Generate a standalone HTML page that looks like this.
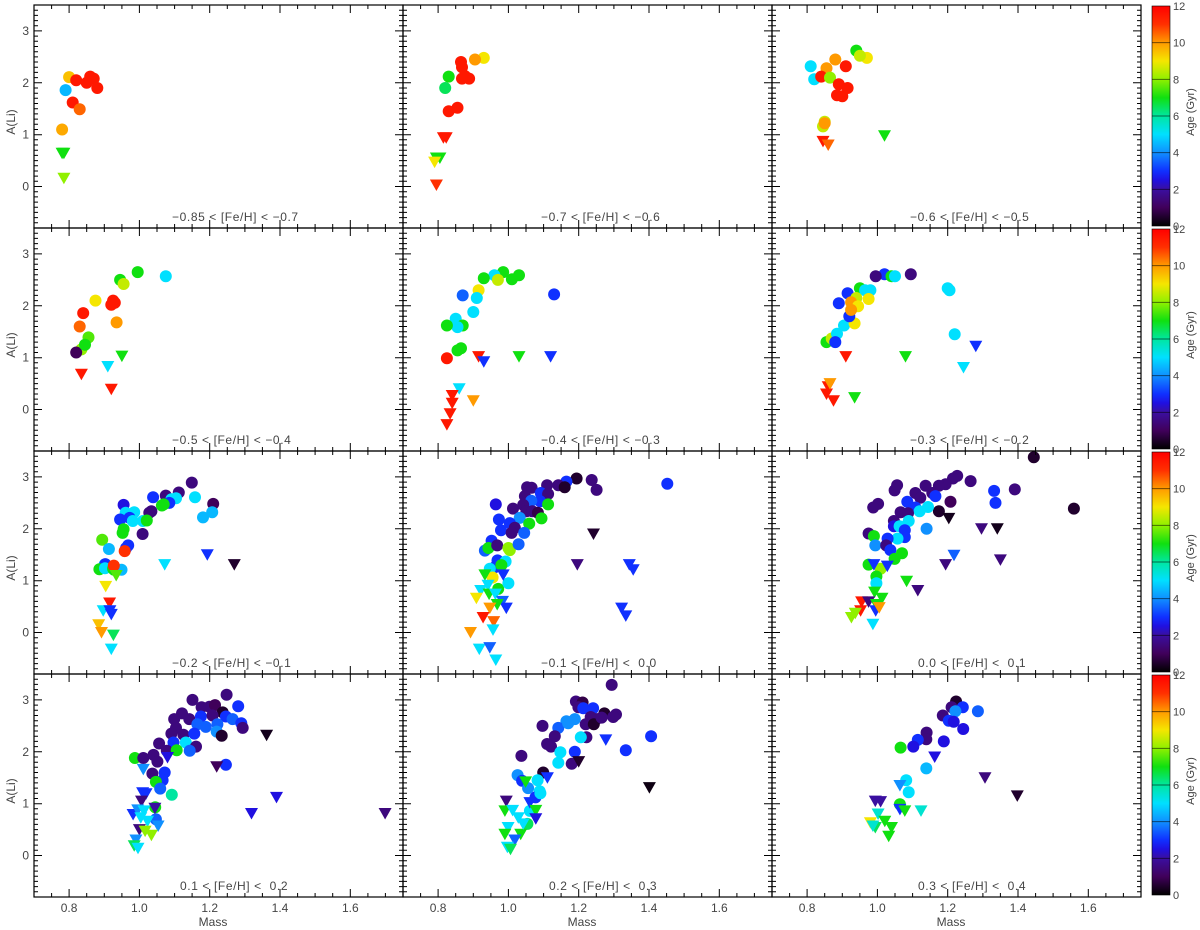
<!DOCTYPE html>
<html><head><meta charset="utf-8"><style>
html,body{margin:0;padding:0;background:#fff;}
svg{display:block;font-family:"Liberation Sans",sans-serif;}
text{white-space:pre;}
</style></head><body>
<svg id="chart" width="1200" height="930" viewBox="0 0 1200 930" xmlns="http://www.w3.org/2000/svg"></svg>
<script>
const panelLabels = ["\u22120.85 < [Fe/H] < \u22120.7","\u22120.7 < [Fe/H] < \u22120.6","\u22120.6 < [Fe/H] < \u22120.5",
"\u22120.5 < [Fe/H] < \u22120.4","\u22120.4 < [Fe/H] < \u22120.3","\u22120.3 < [Fe/H] < \u22120.2",
"\u22120.2 < [Fe/H] < \u22120.1","\u22120.1 < [Fe/H] <  0.0","0.0 < [Fe/H] <  0.1",
"0.1 < [Fe/H] <  0.2","0.2 < [Fe/H] <  0.3","0.3 < [Fe/H] <  0.4"];
const xTicks = [0.8,1.0,1.2,1.4,1.6];
const xTickLabels = ["0.8","1.0","1.2","1.4","1.6"];
const yTicks = [0,1,2,3];
const yTickLabels = ["0","1","2","3"];
const cbTicks = [0,2,4,6,8,10,12];
const cbTickLabels = ["0","2","4","6","8","10","12"];
const circMass = [
[0.80,0.82,0.86,0.87,0.85,0.88,0.79,0.81,0.83,0.78],
[0.93,0.905,0.865,0.868,0.876,0.888,0.868,0.83,0.82,0.855,0.83],
[0.94,0.97,0.95,0.81,0.91,0.88,0.82,0.855,0.84,0.865,0.89,0.885,0.9,0.915,0.845,0.85,0.85],
[0.995,1.075,0.945,0.955,0.875,0.925,0.93,0.92,0.84,0.83,0.855,0.835,0.82,0.845,0.935],
[0.985,1.03,0.96,0.93,0.97,1.01,0.915,0.91,0.87,1.13,0.9,0.85,0.87,0.855,0.825,0.855,0.865,0.825],
[1.02,0.995,1.04,1.095,1.05,0.915,0.95,0.965,0.98,0.94,0.975,1.2,1.205,0.89,0.925,0.945,0.905,0.935,0.92,0.925,1.22,0.855,0.87,0.885,0.88],
[1.149,1.112,1.075,1.158,1.21,1.207,1.181,1.039,1.091,1.104,1.085,1.064,1.069,0.955,1.034,1.028,0.961,0.985,0.972,0.981,0.945,1.01,1.021,0.955,0.952,1.009,0.894,0.913,0.968,0.962,0.958,0.901,0.903,0.886,0.902,0.925,0.928,0.949,0.927],
[1.452,1.194,1.237,1.251,1.165,1.142,1.11,1.16,1.053,1.066,1.047,1.092,1.113,1.09,1.065,1.113,0.964,1.013,1.042,1.051,1.068,1.084,1.032,1.059,1.094,0.973,1.004,0.979,1.018,1.009,1.045,0.952,0.933,0.943,0.968,1.0,1.004,1.029,0.969,0.992,0.961,0.947,0.98,0.955,0.971,1.0],
[1.445,1.559,1.265,1.391,1.332,1.336,1.227,1.215,1.194,1.175,1.137,1.156,1.108,1.122,1.165,1.208,1.175,1.056,1.049,1.002,0.988,1.085,1.108,1.144,1.12,1.066,1.087,1.089,1.047,1.047,1.063,1.078,1.14,1.078,1.057,0.975,0.99,0.994,1.029,1.025,1.037,1.07,1.049,0.975,1.009,0.997,0.997],
[1.248,1.151,1.177,1.199,1.215,1.237,1.281,1.121,1.099,1.142,1.175,1.208,1.246,1.265,1.165,1.189,1.222,1.29,1.294,1.104,1.091,1.125,1.156,1.22,1.234,1.056,1.097,1.132,1.161,1.078,1.106,1.143,0.987,1.011,1.04,1.051,1.037,1.072,1.246,1.066,1.047,1.059,1.092,1.047,1.045],
[1.294,1.192,1.211,1.199,1.213,1.241,1.273,1.306,1.298,1.251,1.234,1.22,1.243,1.265,1.189,1.165,1.142,1.17,1.097,1.132,1.222,1.206,1.11,1.121,1.148,1.189,1.142,1.18,1.334,1.406,1.037,1.099,1.026,1.039,1.056,1.083,1.089,1.077,1.091,1.061,1.054],
[1.224,1.211,1.243,1.286,1.222,1.186,1.203,1.217,1.244,1.14,1.139,1.115,1.189,1.102,1.066,1.139,1.082,1.089,1.064]
];
const circAli = [
[2.11,2.05,2.12,2.08,2.0,1.9,1.86,1.62,1.49,1.1],
[2.48,2.45,2.4,2.3,2.13,2.08,2.08,2.12,1.9,1.52,1.45],
[2.62,2.48,2.52,2.32,2.32,2.45,2.07,2.28,2.12,2.1,1.97,1.76,1.74,1.9,1.16,1.25,1.22],
[2.65,2.57,2.5,2.42,2.1,2.1,2.06,2.02,1.86,1.6,1.39,1.16,1.1,1.25,1.68],
[2.65,2.59,2.59,2.53,2.5,2.51,2.3,2.15,2.2,2.22,1.88,1.75,1.62,1.59,1.62,1.14,1.18,0.99],
[2.61,2.57,2.57,2.61,2.57,2.24,2.34,2.3,2.3,2.15,2.13,2.34,2.3,2.05,2.07,1.99,1.62,1.66,1.8,1.92,1.45,1.3,1.37,1.46,1.3],
[2.89,2.7,2.64,2.61,2.48,2.32,2.22,2.61,2.57,2.59,2.5,2.45,2.47,2.46,2.34,2.31,2.31,2.32,2.21,2.15,2.18,2.15,2.16,1.99,1.92,1.9,1.79,1.61,1.68,1.63,1.57,1.31,1.32,1.22,1.24,1.23,1.21,1.21,1.29],
[2.87,2.97,2.94,2.75,2.91,2.84,2.84,2.8,2.8,2.79,2.63,2.69,2.67,2.53,2.54,2.47,2.47,2.39,2.46,2.34,2.34,2.31,2.21,2.1,2.2,2.18,2.11,1.97,2.02,1.92,1.92,1.77,1.58,1.63,1.68,1.63,1.59,1.7,1.39,1.37,1.26,1.23,1.3,1.06,0.84,0.95],
[3.38,2.39,2.92,2.76,2.73,2.5,3.02,2.97,2.86,2.83,2.83,2.69,2.69,2.6,2.63,2.52,2.34,2.84,2.74,2.48,2.41,2.52,2.41,2.42,2.34,2.32,2.3,2.15,2.15,2.05,2.05,1.97,2.0,1.84,1.81,1.91,1.86,1.68,1.81,1.68,1.59,1.53,1.42,1.31,1.23,1.08,0.95],
[3.1,3.0,2.86,2.87,2.9,2.76,2.88,2.74,2.63,2.63,2.68,2.7,2.68,2.63,2.53,2.48,2.53,2.55,2.46,2.46,2.35,2.33,2.35,2.39,2.31,2.16,2.18,2.18,2.1,2.02,2.03,2.02,1.88,1.88,1.94,1.81,1.58,1.6,1.75,1.45,1.42,1.29,1.17,0.7,0.93],
[3.29,2.97,2.95,2.86,2.84,2.84,2.74,2.72,2.67,2.63,2.67,2.53,2.53,2.66,2.63,2.59,2.46,2.55,2.5,2.3,2.28,2.28,2.15,2.1,1.99,2.0,1.79,1.77,2.03,2.3,1.92,1.6,1.55,1.44,1.3,1.45,1.24,1.12,1.2,0.86,0.61],
[2.97,2.86,2.86,2.78,2.78,2.7,2.6,2.58,2.44,2.37,2.24,2.23,2.2,2.1,2.08,1.68,1.45,1.22,0.99]
];
const circAge = [
[9.5,11.5,11.5,11.5,11.5,11.5,4.5,11.5,10.5,9.8],
[9,10,11.5,11.5,11.5,11.5,11.5,7,6.5,11.5,11.5],
[7,9,8.5,5,11.5,10,5,10,11.5,8,11.5,11.5,11.5,11.5,8.5,8.5,10],
[7,5,7,8.5,9,11.5,11.5,11.5,11.5,10.5,7.5,8,1,7,10],
[7,7,5,7,8.5,7,9,5,3.5,3,5,5,7,5,7,7,7,11.5],
[3,1.5,7,1.5,5,3,7,5,5,8.5,9,5,5,3,10,9,5,9,3,10,5,7,8.5,5,3],
[1.5,1.5,1.5,5,1,4.5,4.5,3,5,5,3,7,7,2.5,1.5,1.5,5,5,3,5,3,5,7,7,7,1.5,7.5,4.5,3,3,11,5,3,7,5,7,7,4.5,11],
[3,0.5,1.5,1.5,3,1.5,1.5,0.5,1.5,1.5,1.5,3,1.5,3,3.5,7,2.5,1.5,1.5,1.5,1.5,0.8,4,7,7,3,3,3,1.5,1.5,3.5,3,3.5,7,1.5,8,8,3.5,3,5,3,5,7,9,7,5],
[0.5,0.5,1.5,1.5,3,3,1.5,1.5,1.5,1.5,1.5,1.5,1.5,1.5,3,1,0.5,1.5,1.5,1.5,1.5,3,3,5,5,1.5,1.5,5,1.5,2.5,5,3,4,3,5,1.5,7,4,3,1.5,3,7,7,7,8,7,5],
[1.5,1.5,1.5,1.5,1,0.5,3,1.5,1.5,1.5,3,1.5,3,3.5,3.5,3.5,3.5,3,1.5,1.5,1.5,1.5,3,4,0.5,1.5,3,5,1.5,1.5,7,3.5,7,1.5,1.5,1.5,1.5,3,3,3,7,3.5,6,3.5,7],
[1.5,1.5,0.8,1.5,3,3,0.5,1.5,1.5,1.5,1.5,1.5,0.5,1.5,4,4,3.5,4,1.5,1.5,1.5,5,1.5,1.5,5,3,5,1.5,3,3,1.5,0.5,4,3,4,5,5,3,5,5,6.5],
[0.5,1.5,3,3.5,4,1.5,3,2.5,2.5,1.5,1.5,3,2.5,2.5,7,4.5,5,5,7]
];
const triMass = [
[0.785,0.78,0.785],
[0.815,0.823,0.805,0.795,0.79,0.795],
[1.02,0.845,0.86],
[0.91,0.95,0.835,0.92],
[0.915,0.93,1.03,1.12,0.86,0.84,0.84,0.834,0.825,0.9],
[1.28,1.245,0.91,1.08,0.86,0.855,0.875,0.865,0.935],
[0.934,1.072,1.193,1.27,0.904,0.915,0.897,0.92,0.916,0.884,0.892,0.926,0.92],
[1.242,1.196,1.344,1.355,1.322,1.334,0.933,0.985,0.942,0.921,0.945,0.963,0.909,0.983,0.994,0.968,0.947,0.928,0.958,0.956,0.892,0.917,0.947,0.964],
[1.203,1.296,1.341,1.218,1.194,1.35,0.99,1.028,1.083,1.115,0.992,1.013,0.955,0.975,0.997,0.952,0.995,1.005,0.937,0.926,0.987],
[1.362,1.22,1.08,1.011,1.009,1.019,1.006,1.39,1.319,1.699,1.044,0.982,0.995,1.013,1.004,1.023,1.053,1.0,1.016,1.034,0.99,0.985,0.996],
[1.277,1.2,1.111,1.401,1.049,0.994,1.061,1.078,1.078,0.99,1.012,1.028,0.999,0.99,1.035,1.018,0.997,1.006,1.042],
[1.163,1.064,1.306,1.398,0.994,1.009,1.064,1.078,1.124,1.002,0.98,0.994,1.021,1.04,1.032,0.987]
];
const triAli = [
[0.64,0.64,0.16],
[0.94,0.94,0.55,0.55,0.47,0.03],
[0.98,0.87,0.8],
[0.83,1.03,0.68,0.39],
[1.02,0.92,1.02,1.02,0.4,0.27,0.12,-0.08,-0.29,0.17],
[1.22,0.81,1.02,1.02,0.44,0.3,0.17,0.5,0.23],
[1.1,1.31,1.5,1.31,0.89,0.57,0.42,0.35,0.42,0.15,0.0,-0.05,-0.32],
[1.9,1.31,1.31,1.21,0.47,0.32,1.11,1.11,0.91,0.81,0.74,0.74,0.66,0.6,0.47,0.54,0.47,0.29,0.21,0.05,0.0,-0.32,-0.29,-0.53],
[2.2,2.0,2.0,1.49,1.31,1.4,1.31,1.28,0.99,0.81,0.78,0.66,0.59,0.59,0.54,0.42,0.42,0.48,0.37,0.29,0.16],
[2.32,1.71,1.89,1.66,1.21,1.19,1.05,1.12,0.81,0.81,0.91,0.79,0.88,0.86,0.73,0.66,0.57,0.5,0.47,0.39,0.3,0.19,0.14],
[2.23,1.81,1.5,1.31,1.42,1.05,1.02,0.87,0.71,0.86,0.87,0.73,0.54,0.41,0.41,0.3,0.16,0.12,0.61],
[1.9,1.35,1.5,1.15,1.05,1.04,0.89,0.86,0.86,0.8,0.63,0.54,0.66,0.54,0.37,0.57]
];
const triAge = [
[7,7,8],
[11.5,11.5,7,7,9,11],
[7,11.5,10.5],
[5,7,11.5,11.5],
[11.5,3,7,3,5,11.5,11.5,11.5,11.5,10],
[3,5,11.5,7,11.5,11.5,11.5,10,7],
[7.5,5,3,0.5,9,11.5,5,3,3,9.5,10,6.5,5],
[0.5,1.5,3,3,3,3,7,3,5,5,7,5,9,3.5,3,7,10,11.5,10.5,5,10,5,3.5,5],
[0.3,1.5,0.3,3.5,1.5,1.5,3,3,7,1.5,7,7,11.5,1.5,7,11.5,3,10,8,8,5],
[0.3,1,2.5,4,3,3,1.5,2.5,2.5,1.5,2,3,4,5,5,5,4,1.5,8,8,4,6.5,5],
[3,0.5,3,0.2,7,1.5,3,7,2.5,7,5,5,5,7,7,3.5,5,6.5,5],
[2.5,4,1.5,0.5,2,2,3,7,5.5,5.5,9,6.5,7,7,7,5.5]
];

const NS="http://www.w3.org/2000/svg";
const svg=document.getElementById('chart');
const X0=34,Y0=5,PW=369,PH=223;
const XMIN=0.7,XMAX=1.75,YMIN=-0.8,YMAX=3.5;
const cmapAge=[0,1,2,2.5,3,4,5,6,7,8,9,10,11,12];
const cmapCol=[[0,0,0],[64,0,90],[58,15,160],[32,16,224],[16,48,255],[16,144,255],[0,224,255],[0,230,160],[16,224,16],[144,240,0],[245,230,0],[255,154,0],[255,48,0],[255,0,0]];
function ageColor(a){
  a=Math.max(0,Math.min(12,a));
  for(let i=0;i<cmapAge.length-1;i++){
    if(a<=cmapAge[i+1]){const t=(a-cmapAge[i])/(cmapAge[i+1]-cmapAge[i]);
      const c=cmapCol[i].map((v,k)=>Math.round(v+(cmapCol[i+1][k]-v)*t));
      return `rgb(${c[0]},${c[1]},${c[2]})`;}
  }
  return 'rgb(255,0,0)';
}
function el(tag,attrs,parent){const e=document.createElementNS(NS,tag);for(const k in attrs)e.setAttribute(k,attrs[k]);(parent||svg).appendChild(e);return e;}
function xs(left,m){return left+(m-XMIN)/(XMAX-XMIN)*PW;}
function ys(top,a){return top+(YMAX-a)/(YMAX-YMIN)*PH;}

const defs=el('defs',{});
const grad=el('linearGradient',{id:'agegrad',x1:0,y1:1,x2:0,y2:0},defs);
for(let i=0;i<=48;i++){const a=i/4;el('stop',{offset:(a/12).toFixed(4),'stop-color':ageColor(a)},grad);}

for(let p=0;p<12;p++){
  const r=Math.floor(p/3),c=p%3;
  const left=X0+c*PW,top=Y0+r*PH;
  const g=el('g',{});
  
  
  const cm=circMass[p],ca=circAli[p],cg=circAge[p];
  for(let i=0;i<cm.length;i++){
    const e=el('circle',{cx:xs(left,cm[i]).toFixed(1),cy:ys(top,ca[i]).toFixed(1),r:6,fill:ageColor(cg[i])},g);
    
    
  }
  const tm=triMass[p],ta=triAli[p],tg=triAge[p];
  for(let i=0;i<tm.length;i++){
    const x=xs(left,tm[i]),y=ys(top,ta[i]);
    const e=el('polygon',{points:`${(x-6.5).toFixed(1)},${(y-5.5).toFixed(1)} ${(x+6.5).toFixed(1)},${(y-5.5).toFixed(1)} ${x.toFixed(1)},${(y+6).toFixed(1)}`,fill:ageColor(tg[i])},g);
    
    
  }
  const fr=el('rect',{x:left,y:top,width:PW,height:PH,fill:'none',stroke:'#000','stroke-width':1.2},g);
  
  
  let d='';
  for(let k=0;k<=21;k++){const v=0.7+k*0.05;const x=xs(left,v);if(x>left+PW+0.5)break;
    const major=xTicks.some(t=>Math.abs(t-v)<1e-6);const L=major?8:4;
    d+=`M${x.toFixed(1)},${top+PH}v${-L}M${x.toFixed(1)},${top}v${L}`;}
  for(let k=0;k<=43;k++){const v=-0.8+k*0.1;const y=ys(top,v);
    const major=yTicks.some(t=>Math.abs(t-v)<1e-6);const L=major?8:4;
    d+=`M${left},${y.toFixed(1)}h${L}M${left+PW},${y.toFixed(1)}h${-L}`;}
  const tk=el('path',{d:d,stroke:'#000','stroke-width':1,fill:'none'},g);
  
  
  if(r===3){
    xTicks.forEach((v,k)=>{const t=el('text',{x:xs(left,v).toFixed(1),y:912,'font-size':12,'text-anchor':'middle',fill:'#444'},g);t.textContent=xTickLabels[k];
      
      });
    const mt=el('text',{x:left+179,y:926,'font-size':12,'text-anchor':'middle',fill:'#444'},g);mt.textContent='Mass';
    
    
  }
  if(c===0){
    yTicks.forEach((v,k)=>{const t=el('text',{x:29,y:(ys(top,v)+4).toFixed(1),'font-size':12,'text-anchor':'end',fill:'#444'},g);t.textContent=yTickLabels[k];
      
      });
    const yt=el('text',{x:0,y:0,'font-size':12,'text-anchor':'middle',fill:'#444',transform:`translate(15,${top+117}) rotate(-90)`},g);yt.textContent='A(Li)';
    
    
  }
  const neg=panelLabels[p].charAt(0)==='\u2212';
  const pl=el('text',{x:left+(neg?138:146),y:top+216,'font-size':12,'letter-spacing':0.6,fill:'#444'},g);pl.textContent=panelLabels[p];
  
  
  if(c===2){
    const cb=el('g',{});
    
    
    const cbx=1152,cbw=18,cbt=top+1,cbh=PH-3;
    el('rect',{x:cbx,y:cbt,width:cbw,height:cbh,fill:'url(#agegrad)',stroke:'#000','stroke-width':0.6},cb);
    cbTicks.forEach((v,k)=>{const y=cbt+cbh-(v/12)*cbh;
      if(v>0&&v<12)el('line',{x1:cbx,x2:cbx+cbw,y1:y,y2:y,stroke:'#000','stroke-opacity':0.55,'stroke-width':1},cb);
      const t=el('text',{x:cbx+cbw+3,y:(y+4).toFixed(1),'font-size':11,fill:'#444'},cb);t.textContent=cbTickLabels[k];
      
      });
    const at=el('text',{x:0,y:0,'font-size':11,'text-anchor':'middle',fill:'#444',transform:`translate(1194,${top+107}) rotate(-90)`},cb);at.textContent='Age (Gyr)';
    
    
  }
}
</script>
</body></html>
